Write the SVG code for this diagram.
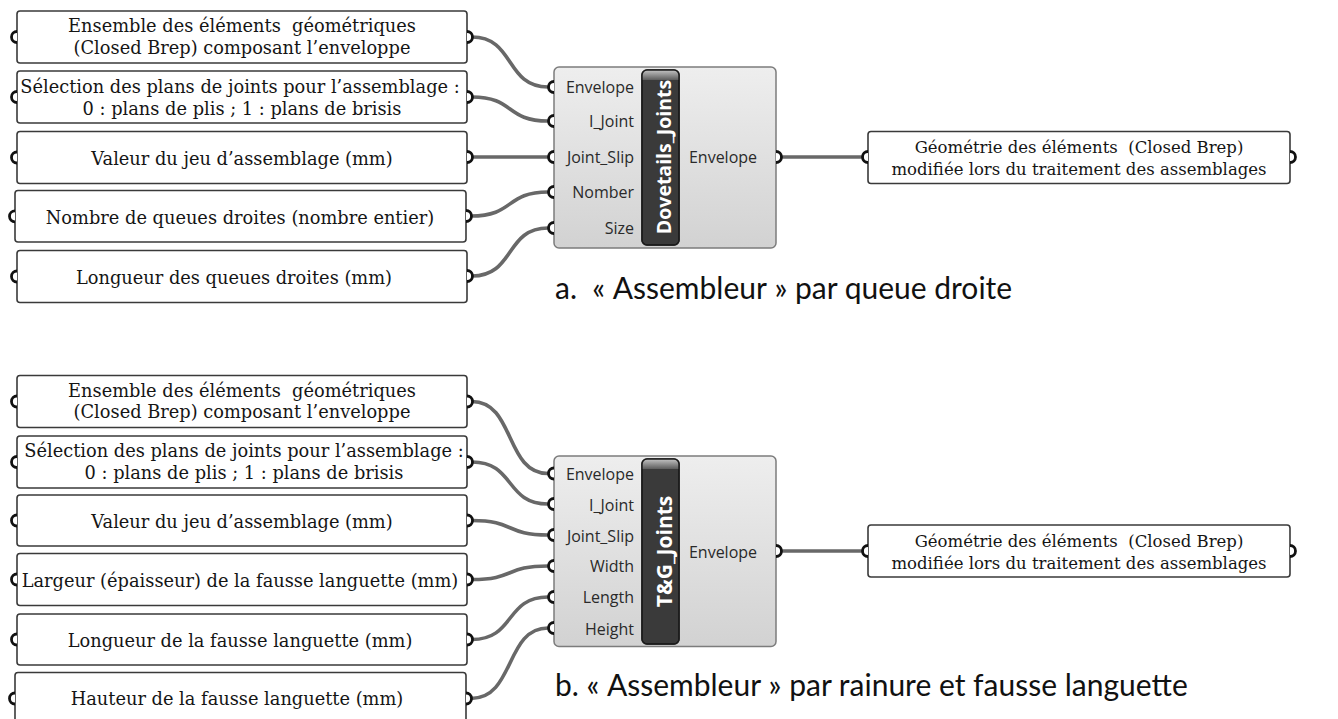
<svg xmlns="http://www.w3.org/2000/svg" xmlns:xlink="http://www.w3.org/1999/xlink" width="1338" height="719" viewBox="0 0 1338 719">
<style>
.box{fill:#fff;stroke:#3a3a3a;stroke-width:1.6}
.port{fill:#fff;stroke:#111;stroke-width:2.8}
.wire{fill:none;stroke:#686868;stroke-width:3.6;stroke-linecap:round}
.bt{font-family:"DejaVu Serif","Liberation Serif",serif;font-size:17.8px;fill:#151515;text-anchor:middle}
.ot{font-family:"DejaVu Serif","Liberation Serif",serif;font-size:16.5px;fill:#151515;text-anchor:middle}
.comp{fill:url(#cg);stroke:#7c7c7c;stroke-width:1.5}
.bar{fill:#3a3a3a;stroke:#1c1c1c;stroke-width:1.5}
.lbl{font-family:"Open Sans","Noto Sans",sans-serif;font-size:16px;fill:#2a2a2a;text-anchor:end}
.olbl{font-family:"Open Sans","Noto Sans",sans-serif;font-size:16px;fill:#2a2a2a;text-anchor:middle}
.nm{font-family:"Open Sans","Noto Sans",sans-serif;font-weight:bold;fill:#fff;text-anchor:middle}
.cap{font-family:Lato,"Open Sans",sans-serif;font-size:30px;fill:#111}
</style>
<defs>
<linearGradient id="cg" x1="0" y1="0" x2="0" y2="1">
<stop offset="0" stop-color="#eeeeee"/>
<stop offset="1" stop-color="#d2d2d2"/>
</linearGradient>
<linearGradient id="capg" x1="0" y1="0" x2="0" y2="1">
<stop offset="0" stop-color="#c4c4c4"/>
<stop offset="1" stop-color="#5c5c5c"/>
</linearGradient>
<path id="pl" d="M0,-5.5 A5.5,5.5 0 0 0 0,5.5"/>
<path id="pr" d="M0,-5.5 A5.5,5.5 0 0 1 0,5.5"/>
<clipPath id="clipA"><rect x="642" y="70" width="37" height="175" rx="5"/></clipPath>
<clipPath id="clipB"><rect x="642" y="459" width="37" height="185" rx="5"/></clipPath>
</defs>

<g id="connectors">
<path class="wire" d="M472,37 C515,37 505,87 548,87"/>
<path class="wire" d="M472,97 C515,97 505,121 548,121"/>
<path class="wire" d="M472,157 L548,157"/>
<path class="wire" d="M471,216 C515,216 505,192 548,192"/>
<path class="wire" d="M472,276 C515,276 505,228 548,228"/>
<path class="wire" d="M782,157 L862,157"/>
<path class="wire" d="M472,401.5 C515,401.5 505,473.5 548,473.5"/>
<path class="wire" d="M472,462 C515,462 505,504 548,504"/>
<path class="wire" d="M472,520.5 C515,520.5 505,535 548,535"/>
<path class="wire" d="M472,579.5 C515,579.5 505,566 548,566"/>
<path class="wire" d="M472,639.5 C515,639.5 505,597 548,597"/>
<path class="wire" d="M471,698.5 C515,698.5 505,628 548,628"/>
<path class="wire" d="M782,551 L862,551"/>
</g>

<g id="a-in-envelope">
<rect class="box" x="17" y="11" width="450" height="52" rx="3"/>
<text class="bt" x="242" y="32">Ensemble des éléments &#160;géométriques</text>
<text class="bt" x="242" y="53.5">(Closed Brep) composant l’enveloppe</text>
<use href="#pl" class="port" x="17" y="37"/><use href="#pr" class="port" x="467" y="37"/>
</g>
<g id="a-in-joint">
<rect class="box" x="17" y="71" width="450" height="52" rx="3"/>
<text class="bt" x="240" y="92.5">Sélection des plans de joints pour l’assemblage :</text>
<text class="bt" x="242" y="114.5">0 : plans de plis ; 1 : plans de brisis</text>
<use href="#pl" class="port" x="17" y="97"/><use href="#pr" class="port" x="467" y="97"/>
</g>
<g id="a-in-slip">
<rect class="box" x="17" y="131.5" width="450" height="52" rx="3"/>
<text class="bt" x="242" y="164.5">Valeur du jeu d’assemblage (mm)</text>
<use href="#pl" class="port" x="17" y="157.5"/><use href="#pr" class="port" x="467" y="157"/>
</g>
<g id="a-in-number">
<rect class="box" x="15" y="190.5" width="451" height="51.5" rx="3"/>
<text class="bt" x="240" y="223.5">Nombre de queues droites (nombre entier)</text>
<use href="#pl" class="port" x="15" y="216.3"/><use href="#pr" class="port" x="466" y="216"/>
</g>
<g id="a-in-size">
<rect class="box" x="17" y="250.5" width="450" height="52" rx="3"/>
<text class="bt" x="234" y="284">Longueur des queues droites (mm)</text>
<use href="#pl" class="port" x="17" y="276.5"/><use href="#pr" class="port" x="467" y="276"/>
</g>

<g id="a-component">
<rect class="comp" x="554" y="67" width="222" height="181" rx="5"/>
<rect x="642" y="70" width="37" height="175" rx="5" class="bar"/>
<rect x="642" y="70" width="37" height="10" fill="url(#capg)" clip-path="url(#clipA)"/>
<rect x="642" y="70" width="37" height="175" rx="5" fill="none" stroke="#1c1c1c" stroke-width="1.5"/>
<text class="nm" font-size="19.5" transform="translate(671,157) rotate(-90)">Dovetails_Joints</text>
<text class="lbl" x="634" y="93">Envelope</text>
<text class="lbl" x="634" y="126.5">I_Joint</text>
<text class="lbl" x="634" y="162.5">Joint_Slip</text>
<text class="lbl" x="634" y="197.5">Nomber</text>
<text class="lbl" x="634" y="233.5">Size</text>
<text class="olbl" x="723" y="162.5">Envelope</text>
<use href="#pl" class="port" x="554" y="87"/>
<use href="#pl" class="port" x="554" y="121"/>
<use href="#pl" class="port" x="554" y="157"/>
<use href="#pl" class="port" x="554" y="192"/>
<use href="#pl" class="port" x="554" y="228"/>
<use href="#pr" class="port" x="776" y="157"/>
</g>

<g id="a-output">
<rect class="box" x="868" y="131.5" width="422" height="52" rx="3"/>
<text class="ot" x="1079" y="153">Géométrie des éléments &#160;(Closed Brep)</text>
<text class="ot" x="1079" y="175">modifiée lors du traitement des assemblages</text>
<use href="#pl" class="port" x="868" y="157"/><use href="#pr" class="port" x="1290" y="157"/>
</g>

<g id="b-in-envelope">
<rect class="box" x="17" y="375.5" width="450" height="52" rx="3"/>
<text class="bt" x="242" y="396.5">Ensemble des éléments &#160;géométriques</text>
<text class="bt" x="242" y="418">(Closed Brep) composant l’enveloppe</text>
<use href="#pl" class="port" x="17" y="401.5"/><use href="#pr" class="port" x="467" y="401.5"/>
</g>
<g id="b-in-joint">
<rect class="box" x="17" y="436" width="450" height="52" rx="3"/>
<text class="bt" x="244" y="457">Sélection des plans de joints pour l’assemblage :</text>
<text class="bt" x="244" y="479">0 : plans de plis ; 1 : plans de brisis</text>
<use href="#pl" class="port" x="17" y="462"/><use href="#pr" class="port" x="467" y="462"/>
</g>
<g id="b-in-slip">
<rect class="box" x="17" y="495" width="450" height="51" rx="3"/>
<text class="bt" x="242" y="528">Valeur du jeu d’assemblage (mm)</text>
<use href="#pl" class="port" x="17" y="520.5"/><use href="#pr" class="port" x="467" y="520.5"/>
</g>
<g id="b-in-width">
<rect class="box" x="17" y="553.5" width="450" height="52" rx="3"/>
<text class="bt" x="240" y="587">Largeur (épaisseur) de la fausse languette (mm)</text>
<use href="#pl" class="port" x="17" y="579.5"/><use href="#pr" class="port" x="467" y="579.5"/>
</g>
<g id="b-in-length">
<rect class="box" x="17" y="614" width="450" height="51" rx="3"/>
<text class="bt" x="240" y="647">Longueur de la fausse languette (mm)</text>
<use href="#pl" class="port" x="17" y="639.5"/><use href="#pr" class="port" x="467" y="639.5"/>
</g>
<g id="b-in-height">
<rect class="box" x="15" y="672.5" width="451" height="52" rx="3"/>
<text class="bt" x="237" y="705">Hauteur de la fausse languette (mm)</text>
<use href="#pl" class="port" x="15" y="698.5"/><use href="#pr" class="port" x="466" y="698.5"/>
</g>

<g id="b-component">
<rect class="comp" x="554" y="456" width="222" height="190.5" rx="5"/>
<rect x="642" y="459" width="37" height="185" rx="5" class="bar"/>
<rect x="642" y="459" width="37" height="10" fill="url(#capg)" clip-path="url(#clipB)"/>
<rect x="642" y="459" width="37" height="185" rx="5" fill="none" stroke="#1c1c1c" stroke-width="1.5"/>
<text class="nm" font-size="21" transform="translate(671.5,551.5) rotate(-90)">T&amp;G_Joints</text>
<text class="lbl" x="634" y="479.5">Envelope</text>
<text class="lbl" x="634" y="510.5">I_Joint</text>
<text class="lbl" x="634" y="541.5">Joint_Slip</text>
<text class="lbl" x="634" y="572">Width</text>
<text class="lbl" x="634" y="603">Length</text>
<text class="lbl" x="634" y="634.5">Height</text>
<text class="olbl" x="723" y="557.5">Envelope</text>
<use href="#pl" class="port" x="554" y="473.5"/>
<use href="#pl" class="port" x="554" y="504"/>
<use href="#pl" class="port" x="554" y="535"/>
<use href="#pl" class="port" x="554" y="566"/>
<use href="#pl" class="port" x="554" y="597"/>
<use href="#pl" class="port" x="554" y="628"/>
<use href="#pr" class="port" x="776" y="551"/>
</g>

<g id="b-output">
<rect class="box" x="868" y="525" width="422" height="52" rx="3"/>
<text class="ot" x="1079" y="546.5">Géométrie des éléments &#160;(Closed Brep)</text>
<text class="ot" x="1079" y="568.5">modifiée lors du traitement des assemblages</text>
<use href="#pl" class="port" x="868" y="551"/><use href="#pr" class="port" x="1290" y="551"/>
</g>

<g id="captions">
<text class="cap" x="555" y="299">a. &#160;«&#8239;Assembleur&#8239;» par queue droite</text>
<text class="cap" x="555" y="696">b. «&#8239;Assembleur&#8239;» par rainure et fausse languette</text>
</g>
</svg>
